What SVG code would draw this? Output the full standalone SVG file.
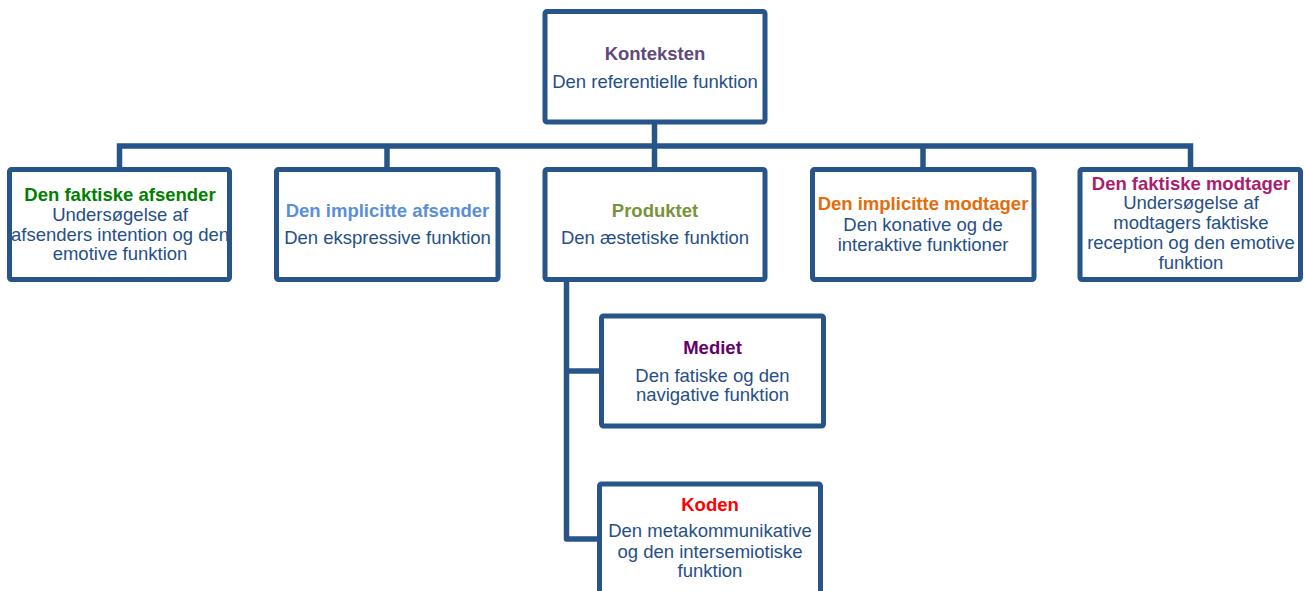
<svg xmlns="http://www.w3.org/2000/svg" width="1304" height="591" viewBox="0 0 1304 591">
<style>
.box{fill:#ffffff;stroke:#27558a;stroke-width:5;}
.con{fill:none;stroke:#27558a;stroke-width:5.5;stroke-linejoin:round;}
text{font-family:"Liberation Sans",Arial,sans-serif;font-size:18.5px;text-anchor:middle;}
.b{fill:#264f87;}
.t{font-weight:bold;}
</style>
<rect width="1304" height="591" fill="#ffffff"/>
<g id="connectors">
<path class="con" d="M654.5 122 V146"/>
<path class="con" d="M119.5 169.5 V146 H1190.5 V169.5" style="stroke-linejoin:miter"/>
<path class="con" d="M387 146 V169.5"/>
<path class="con" d="M654.5 146 V169.5"/>
<path class="con" d="M923 146 V169.5"/>
<path class="con" d="M566.5 279.5 V539 H598"/>
<path class="con" d="M566.5 371 H601.5"/>
</g>
<g id="konteksten">
<rect class="box" x="545" y="11.5" width="220" height="110.5" rx="2"/>
<text x="655" y="60" class="t" fill="#604a7b">Konteksten</text>
<text x="655" y="88" class="b">Den referentielle funktion</text>
</g>
<g id="faktiske-afsender">
<rect class="box" x="9.5" y="169.5" width="220" height="110" rx="2"/>
<text x="120" y="201" class="t" fill="#008000">Den faktiske afsender</text>
<text x="120" y="220.5" class="b">Undersøgelse af</text>
<text x="120" y="241" class="b">afsenders intention og den</text>
<text x="120" y="260" class="b">emotive funktion</text>
</g>
<g id="implicitte-afsender">
<rect class="box" x="276.5" y="169.5" width="221.5" height="110" rx="2"/>
<text x="387.5" y="217" class="t" fill="#5a8fd8">Den implicitte afsender</text>
<text x="387.5" y="243.5" class="b">Den ekspressive funktion</text>
</g>
<g id="produktet">
<rect class="box" x="545" y="169.5" width="220" height="110" rx="2"/>
<text x="655" y="217" class="t" fill="#77933c">Produktet</text>
<text x="655" y="243.5" class="b">Den æstetiske funktion</text>
</g>
<g id="implicitte-modtager">
<rect class="box" x="812.5" y="169.5" width="221.5" height="110" rx="2"/>
<text x="923" y="210" class="t" fill="#e46c0a">Den implicitte modtager</text>
<text x="923" y="231" class="b">Den konative og de</text>
<text x="923" y="251" class="b">interaktive funktioner</text>
</g>
<g id="faktiske-modtager">
<rect class="box" x="1080" y="169.5" width="220.5" height="110" rx="2"/>
<text x="1191" y="189.5" class="t" fill="#aa1e6e">Den faktiske modtager</text>
<text x="1191" y="208.5" class="b">Undersøgelse af</text>
<text x="1191" y="228.5" class="b">modtagers faktiske</text>
<text x="1191" y="248.5" class="b">reception og den emotive</text>
<text x="1191" y="268.5" class="b">funktion</text>
</g>
<g id="mediet">
<rect class="box" x="601.5" y="316" width="222" height="110" rx="2"/>
<text x="712.5" y="354" class="t" fill="#660066">Mediet</text>
<text x="712.5" y="381.5" class="b">Den fatiske og den</text>
<text x="712.5" y="401" class="b">navigative funktion</text>
</g>
<g id="koden">
<rect class="box" x="599.5" y="484" width="221" height="112" rx="2"/>
<text x="710" y="511" class="t" fill="#ff0000">Koden</text>
<text x="710" y="537" class="b">Den metakommunikative</text>
<text x="710" y="557.5" class="b">og den intersemiotiske</text>
<text x="710" y="577" class="b">funktion</text>
</g>
</svg>
